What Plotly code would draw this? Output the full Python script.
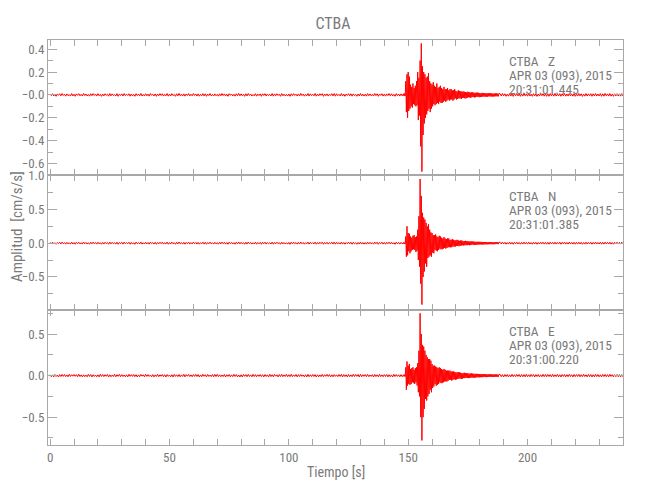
import numpy as np
import plotly.graph_objects as go
from plotly.subplots import make_subplots

STATION = "CTBA"
COMPONENTS = ["Z", "N", "E"]
DATE_LABEL = "APR 03 (093), 2015"
START_TIMES = ["20:31:01.445", "20:31:01.385", "20:31:00.220"]

# sample timing (s): quiet parts every 0.5 s, event every 0.25 s
PRE_T0, PRE_DT = 0.0, 0.5
EVT_T0, EVT_DT = 148.0, 0.25
POST_T0, POST_DT = 188.5, 0.5

# quiet background noise, in thousandths of cm/s/s
Z_PRE_MILLI = [
8,-6,11,-9,4,-12,7,-3,10,-8,12,-5,6,-11,9,-7,3,-10,12,-9,
6,-12,9,-4,11,-8,5,-10,13,-6,8,-9,4,-11,10,-7,12,-5,7,-10,
11,-7,5,-12,8,-9,10,-4,6,-11,12,-8,9,-6,4,-10,11,-12,7,-5,
9,-10,12,-7,6,-5,10,-11,8,-9,5,-12,11,-6,7,-8,13,-10,4,-9,
10,-8,7,-11,12,-4,6,-9,9,-12,8,-7,11,-5,10,-10,5,-8,12,-11,
7,-9,11,-6,4,-12,10,-8,13,-7,6,-10,9,-11,8,-5,12,-9,6,-8,
12,-5,8,-10,9,-11,5,-7,11,-9,10,-12,7,-6,12,-8,4,-10,9,-7,
5,-11,10,-8,12,-6,9,-10,7,-12,11,-4,8,-9,6,-11,10,-7,13,-8,
9,-7,6,-12,10,-9,12,-5,8,-10,4,-8,11,-11,7,-6,9,-12,10,-5,
11,-10,8,-6,5,-9,12,-11,9,-7,10,-5,6,-12,12,-8,7,-9,4,-10,
8,-12,10,-7,11,-5,6,-10,9,-9,13,-6,7,-11,5,-8,12,-10,10,-6,
6,-8,12,-11,7,-9,10,-4,11,-12,8,-7,9,-10,6,-5,11,-9,12,-11,
10,-6,5,-9,12,-10,8,-12,7,-5,11,-8,10,-11,9,-6,4,-12,8,-9,
12,-9,7,-10,6,-11,11,-7,9,-8,5,-10,12,-6,10,-12,8,-5,11,-10,
7,-11,9,-6,12,-8,10,-9,5,-12,11,-7,8,-10,9,-8]

Z_EVT = [0.010,-0.010,0.012,-0.008,
0.12,-0.15,0.18,-0.20, 0.20,-0.14,0.16,-0.12,
0.09,-0.10,0.07,-0.11, 0.10,-0.08,0.06,-0.09,
0.08,-0.10,0.12,-0.09, 0.20,-0.22,0.15,-0.18,
0.30,-0.45,0.45,-0.67, 0.25,-0.35,0.20,-0.25,
0.18,-0.20,0.15,-0.17, 0.16,-0.14,0.19,-0.12,
0.12,-0.15,0.10,-0.12, 0.09,-0.10,0.11,-0.08,
0.08,-0.09,0.07,-0.08, 0.10,-0.07,0.06,-0.08,
0.07,-0.06,0.08,-0.07, 0.06,-0.07,0.05,-0.06,
0.07,-0.05,0.05,-0.06, 0.05,-0.05,0.06,-0.04,
0.04,-0.05,0.05,-0.04, 0.05,-0.04,0.04,-0.05,
0.04,-0.04,0.05,-0.03, 0.035,-0.04,0.03,-0.035,
0.04,-0.03,0.035,-0.03, 0.03,-0.035,0.03,-0.025,
0.03,-0.025,0.028,-0.03, 0.025,-0.03,0.022,-0.025,
0.028,-0.02,0.025,-0.022, 0.02,-0.025,0.022,-0.02,
0.022,-0.018,0.02,-0.022, 0.018,-0.02,0.02,-0.017,
0.02,-0.016,0.018,-0.02, 0.016,-0.018,0.015,-0.017,
0.018,-0.015,0.016,-0.014, 0.015,-0.016,0.014,-0.015,
0.014,-0.015,0.016,-0.013, 0.015,-0.013,0.014,-0.014,
0.013,-0.014,0.012,-0.013, 0.012,-0.013,0.014,-0.012,
0.013,-0.012,0.011,-0.013, 0.012]

Z_POST_MILLI = [
11,-9,13,-8,10,-12,7,-11,12,-10,9,-13,11,-7,12,-9,8,-12,10,-11,
13,-8,9,-11,12,-10,7,-12,11,-9,10,-13,8,-10,12,-7,11,-11,9,-12,
10,-12,12,-8,9,-11,13,-10,7,-9,11,-12,10,-8,12,-11,8,-10,13,-9,
9,-11,11,-12,8,-10,12,-9,10,-13,7,-11,12,-10,9,-8,11,-12,10,-9,
12,-10,8,-9,11,-12,10,-11,13,-8,9,-10,12,-11,7,-12,10,-9,11,-10,
9,-11,12,-10]

N_PRE_MILLI = [
12,-9,15,-13,7,-16,10,-6,14,-11,16,-8,9,-15,13,-10,6,-14,16,-12,
9,-16,13,-7,15,-11,8,-14,17,-9,11,-13,7,-15,14,-10,16,-8,10,-14,
15,-10,8,-16,11,-13,14,-7,9,-15,16,-11,13,-9,7,-14,15,-16,10,-8,
13,-14,16,-10,9,-8,14,-15,11,-13,8,-16,15,-9,10,-11,17,-14,7,-13,
14,-11,10,-15,16,-7,9,-13,13,-16,11,-10,15,-8,14,-14,8,-11,16,-15,
10,-13,15,-9,7,-16,14,-11,17,-10,9,-14,13,-15,11,-8,16,-13,9,-11,
16,-8,11,-14,13,-15,8,-10,15,-13,14,-16,10,-9,16,-11,7,-14,13,-10,
8,-15,14,-11,16,-9,13,-14,10,-16,15,-7,11,-13,9,-15,14,-10,17,-11,
13,-10,9,-16,14,-13,16,-8,11,-14,7,-11,15,-15,10,-9,13,-16,14,-8,
15,-14,11,-9,8,-13,16,-15,13,-10,14,-8,9,-16,16,-11,10,-13,7,-14,
11,-16,14,-10,15,-8,9,-14,13,-13,17,-9,10,-15,8,-11,16,-14,14,-9,
9,-11,16,-15,10,-13,14,-7,15,-16,11,-10,13,-14,9,-8,15,-13,16,-15,
14,-9,8,-13,16,-14,11,-16,10,-8,15,-11,14,-15,13,-9,7,-16,11,-13,
16,-13,10,-14,9,-15,15,-10,13,-11,8,-14,16,-9,14,-16,11,-8,15,-14,
10,-15,13,-9,16,-11,14,-13,8,-16,15,-10,11,-14,13,-11]

N_EVT = [0.010,-0.012,0.010,-0.010,
0.10,-0.20,0.25,-0.18, 0.15,-0.12,0.14,-0.15,
0.10,-0.12,0.08,-0.10, 0.11,-0.09,0.12,-0.10,
0.09,-0.13,0.10,-0.11, 0.20,-0.25,0.40,-0.35,
0.95,-0.60,0.70,-0.91, 0.45,-0.50,0.38,-0.42,
0.35,-0.30,0.30,-0.35, 0.25,-0.22,0.28,-0.20,
0.20,-0.18,0.16,-0.20, 0.15,-0.14,0.12,-0.15,
0.12,-0.10,0.13,-0.11, 0.10,-0.12,0.09,-0.10,
0.11,-0.08,0.10,-0.09, 0.08,-0.09,0.07,-0.08,
0.09,-0.07,0.07,-0.08, 0.06,-0.07,0.07,-0.06,
0.07,-0.06,0.05,-0.06, 0.05,-0.06,0.06,-0.05,
0.05,-0.05,0.04,-0.05, 0.045,-0.04,0.05,-0.04,
0.04,-0.045,0.035,-0.04, 0.04,-0.035,0.04,-0.03,
0.03,-0.035,0.03,-0.03, 0.035,-0.03,0.028,-0.03,
0.03,-0.025,0.028,-0.03, 0.025,-0.028,0.025,-0.022,
0.025,-0.022,0.024,-0.025, 0.022,-0.024,0.02,-0.022,
0.02,-0.022,0.021,-0.02, 0.02,-0.018,0.02,-0.019,
0.018,-0.02,0.017,-0.018, 0.017,-0.018,0.018,-0.016,
0.016,-0.017,0.015,-0.016, 0.017,-0.015,0.016,-0.015,
0.015,-0.016,0.014,-0.015, 0.014,-0.015,0.015,-0.013,
0.015,-0.013,0.014,-0.014, 0.013]

N_POST_MILLI = [
14,-12,16,-11,13,-15,10,-14,15,-13,12,-16,14,-10,15,-12,11,-15,13,-14,
16,-11,12,-14,15,-13,10,-15,14,-12,13,-16,11,-13,15,-10,14,-14,12,-15,
13,-15,15,-11,12,-14,16,-13,10,-12,14,-15,13,-11,15,-14,11,-13,16,-12,
12,-14,14,-15,11,-13,15,-12,13,-16,10,-14,15,-13,12,-11,14,-15,13,-12,
15,-13,11,-12,14,-15,13,-14,16,-11,12,-13,15,-14,10,-15,13,-12,14,-13,
12,-14,15,-13]

E_PRE_MILLI = [
11,-13,9,-15,14,-10,7,-16,12,-11,15,-9,13,-12,8,-14,16,-10,11,-7,
14,-8,12,-13,16,-11,9,-15,10,-12,7,-14,15,-9,13,-16,11,-10,8,-13,
9,-15,16,-10,13,-12,11,-8,14,-16,10,-13,7,-11,15,-14,12,-9,16,-12,
13,-11,8,-14,10,-15,16,-9,12,-10,14,-12,11,-16,9,-13,15,-7,10,-14,
16,-10,13,-9,7,-14,12,-15,9,-11,16,-13,10,-8,14,-12,11,-16,13,-9,
8,-14,11,-16,15,-9,10,-12,13,-14,9,-10,16,-15,12,-7,14,-11,9,-13,
12,-9,15,-11,13,-16,9,-13,16,-8,11,-15,14,-10,7,-12,13,-14,15,-11,
15,-12,10,-13,8,-11,14,-16,11,-9,13,-14,9,-12,16,-10,12,-15,8,-16,
10,-16,14,-8,12,-13,15,-10,9,-14,16,-11,12,-13,10,-9,14,-12,11,-15,
13,-10,9,-15,16,-12,11,-14,14,-7,10,-16,13,-11,15,-13,9,-10,16,-12,
11,-13,16,-12,9,-10,13,-15,12,-11,14,-9,8,-14,11,-16,15,-12,10,-11,
14,-11,12,-16,10,-14,9,-12,15,-13,11,-8,16,-10,13,-15,10,-14,12,-9,
9,-12,13,-10,15,-16,12,-11,10,-15,14,-12,9,-13,16,-11,13,-9,14,-16,
16,-14,11,-9,13,-12,15,-13,8,-10,12,-16,14,-11,10,-14,16,-12,9,-13,
12,-10,14,-15,11,-13,9,-16,15,-11,13,-9,10,-14,12,-13]

E_EVT = [0.010,-0.010,0.012,-0.010,
0.10,-0.17,0.17,-0.12, 0.12,-0.10,0.14,-0.11,
0.08,-0.10,0.09,-0.08, 0.10,-0.09,0.07,-0.10,
0.09,-0.08,0.10,-0.12, 0.15,-0.20,0.30,-0.25,
0.75,-0.50,0.50,-0.78, 0.37,-0.50,0.35,-0.40,
0.30,-0.28,0.25,-0.30, 0.22,-0.25,0.20,-0.22,
0.20,-0.17,0.18,-0.20, 0.14,-0.15,0.12,-0.13,
0.12,-0.10,0.11,-0.12, 0.10,-0.11,0.09,-0.10,
0.10,-0.08,0.09,-0.09, 0.08,-0.09,0.07,-0.08,
0.08,-0.07,0.07,-0.07, 0.06,-0.07,0.06,-0.06,
0.06,-0.05,0.06,-0.05, 0.05,-0.06,0.05,-0.05,
0.05,-0.045,0.045,-0.05, 0.04,-0.045,0.04,-0.04,
0.04,-0.035,0.04,-0.035, 0.035,-0.04,0.03,-0.035,
0.03,-0.03,0.035,-0.03, 0.03,-0.028,0.03,-0.027,
0.028,-0.03,0.025,-0.027, 0.025,-0.025,0.027,-0.024,
0.024,-0.025,0.022,-0.024, 0.022,-0.023,0.022,-0.02,
0.021,-0.02,0.02,-0.021, 0.02,-0.019,0.02,-0.018,
0.018,-0.019,0.018,-0.017, 0.018,-0.017,0.017,-0.018,
0.016,-0.017,0.016,-0.015, 0.017,-0.015,0.016,-0.016,
0.015,-0.016,0.015,-0.014, 0.015,-0.014,0.015,-0.015,
0.014,-0.015,0.013,-0.014, 0.014]

E_POST_MILLI = [
15,-13,12,-16,14,-11,13,-15,10,-14,16,-12,11,-13,15,-10,14,-16,12,-13,
13,-15,16,-12,11,-14,15,-10,13,-16,12,-11,14,-15,10,-13,16,-12,13,-14,
14,-11,13,-15,16,-13,10,-12,15,-14,11,-16,13,-10,14,-15,12,-13,16,-11,
11,-16,14,-12,13,-10,15,-14,12,-13,16,-11,10,-15,14,-12,13,-16,11,-14,
16,-12,13,-14,10,-15,14,-11,15,-13,12,-14,16,-10,13,-15,11,-12,14,-13,
13,-15,12,-14]

Y_RANGES = [[-0.70, 0.48], [-0.99, 1.01], [-0.835, 0.79]]
Y_TICKS = [[-0.6, -0.4, -0.2, 0.0, 0.2, 0.4], [-0.5, 0.0, 0.5, 1.0], [-0.5, 0.0, 0.5]]
Y_TICKTEXT = [["\u22120.6", "\u22120.4", "\u22120.2", "\u22120.0", "0.2", "0.4"],
              ["\u22120.5", "0.0", "0.5", "1.0"],
              ["\u22120.5", "0.0", "0.5"]]
Y_MINOR = [0.1, 0.25, 0.25]
X_RANGE = [-0.9, 240]
X_TICKS = list(range(0, 241, 10))
X_TICKTEXT = [str(v) if v % 50 == 0 else "" for v in X_TICKS]

TRACES = [(Z_PRE_MILLI, Z_EVT, Z_POST_MILLI),
          (N_PRE_MILLI, N_EVT, N_POST_MILLI),
          (E_PRE_MILLI, E_EVT, E_POST_MILLI)]


def series(pre_milli, evt, post_milli):
    pre = np.asarray(pre_milli, dtype=float) / 1000.0
    post = np.asarray(post_milli, dtype=float) / 1000.0
    tp = PRE_T0 + PRE_DT * np.arange(len(pre))
    te = EVT_T0 + EVT_DT * np.arange(len(evt))
    tq = POST_T0 + POST_DT * np.arange(len(post))
    return np.concatenate([tp, te, tq]), np.concatenate([pre, evt, post])


FONT = "Liberation Sans Narrow, Roboto Condensed, DejaVu Sans Condensed, Arial Narrow, sans-serif"
TXT = "#7a7a7a"
AX = "#a8a8a8"

# the page body has an 8 px default margin; size the figure to fill the rest
BODY = 8
PAGE_W, PAGE_H = 650, 500
PLOT_L, PLOT_R, PLOT_T, PLOT_B = 48, 623, 40, 445   # page pixels of plot area
FIG_W, FIG_H = PAGE_W - BODY, PAGE_H - BODY

fig = make_subplots(rows=3, cols=1, shared_xaxes=True, vertical_spacing=0)

for i, (pre, evt, post) in enumerate(TRACES):
    t, v = series(pre, evt, post)
    fig.add_trace(go.Scatter(x=t, y=v, mode="lines",
                             line=dict(color="#ff0000", width=1),
                             hoverinfo="skip"), row=i + 1, col=1)
    fig.update_yaxes(range=Y_RANGES[i], tickvals=Y_TICKS[i], ticktext=Y_TICKTEXT[i],
                     ticks="inside", ticklen=9, tickcolor=AX, showline=True,
                     linecolor=AX, linewidth=1, mirror="ticks", showgrid=False,
                     zeroline=False, automargin=False,
                     minor=dict(dtick=Y_MINOR[i], tick0=0, ticks="inside",
                                ticklen=5, tickcolor=AX),
                     tickfont=dict(family=FONT, size=13, color=TXT),
                     row=i + 1, col=1)
    fig.update_xaxes(range=X_RANGE, tickvals=X_TICKS, ticktext=X_TICKTEXT,
                     ticks="inside", ticklen=6, tickcolor=AX, showline=True,
                     linecolor=AX, linewidth=1, mirror="ticks", showgrid=False,
                     zeroline=False, automargin=False,
                     tickfont=dict(family=FONT, size=13, color=TXT),
                     row=i + 1, col=1)


def py(px):
    return (PLOT_B - px) / (PLOT_B - PLOT_T)


def pxx(px):
    return (px - PLOT_L) / (PLOT_R - PLOT_L)


LINE_Y = [[61, 75, 89], [196, 210, 224], [331, 345, 359]]
for i, comp in enumerate(COMPONENTS):
    lines = [STATION + "\u00a0\u00a0\u00a0" + comp, DATE_LABEL, START_TIMES[i]]
    for txt, ypx in zip(lines, LINE_Y[i]):
        fig.add_annotation(x=191.5, xref="x", y=py(ypx), yref="paper",
                           text=txt, showarrow=False, xanchor="left",
                           yanchor="middle",
                           font=dict(family=FONT, size=13.5, color=TXT))

fig.add_annotation(x=pxx(17), xref="paper", y=py(227), yref="paper",
                   text="Amplitud\u00a0\u00a0[cm/s/s]", textangle=-90, showarrow=False,
                   xanchor="center", yanchor="middle",
                   font=dict(family=FONT, size=15, color=TXT))
fig.add_annotation(x=pxx(336), xref="paper", y=py(472), yref="paper",
                   text="Tiempo [s]", showarrow=False,
                   xanchor="center", yanchor="middle",
                   font=dict(family=FONT, size=14, color=TXT))

fig.update_layout(
    width=FIG_W, height=FIG_H,
    margin=dict(l=PLOT_L - BODY, r=PAGE_W - PLOT_R, t=PLOT_T - BODY,
                b=PAGE_H - PLOT_B, autoexpand=False),
    paper_bgcolor="white", plot_bgcolor="white",
    showlegend=False,
    title=dict(text=STATION, x=(333 - BODY) / FIG_W, xanchor="center",
               y=1 - (23 - BODY) / FIG_H, yanchor="middle",
               font=dict(family=FONT, size=16, color=TXT)),
)

fig.write_html("out.html")
